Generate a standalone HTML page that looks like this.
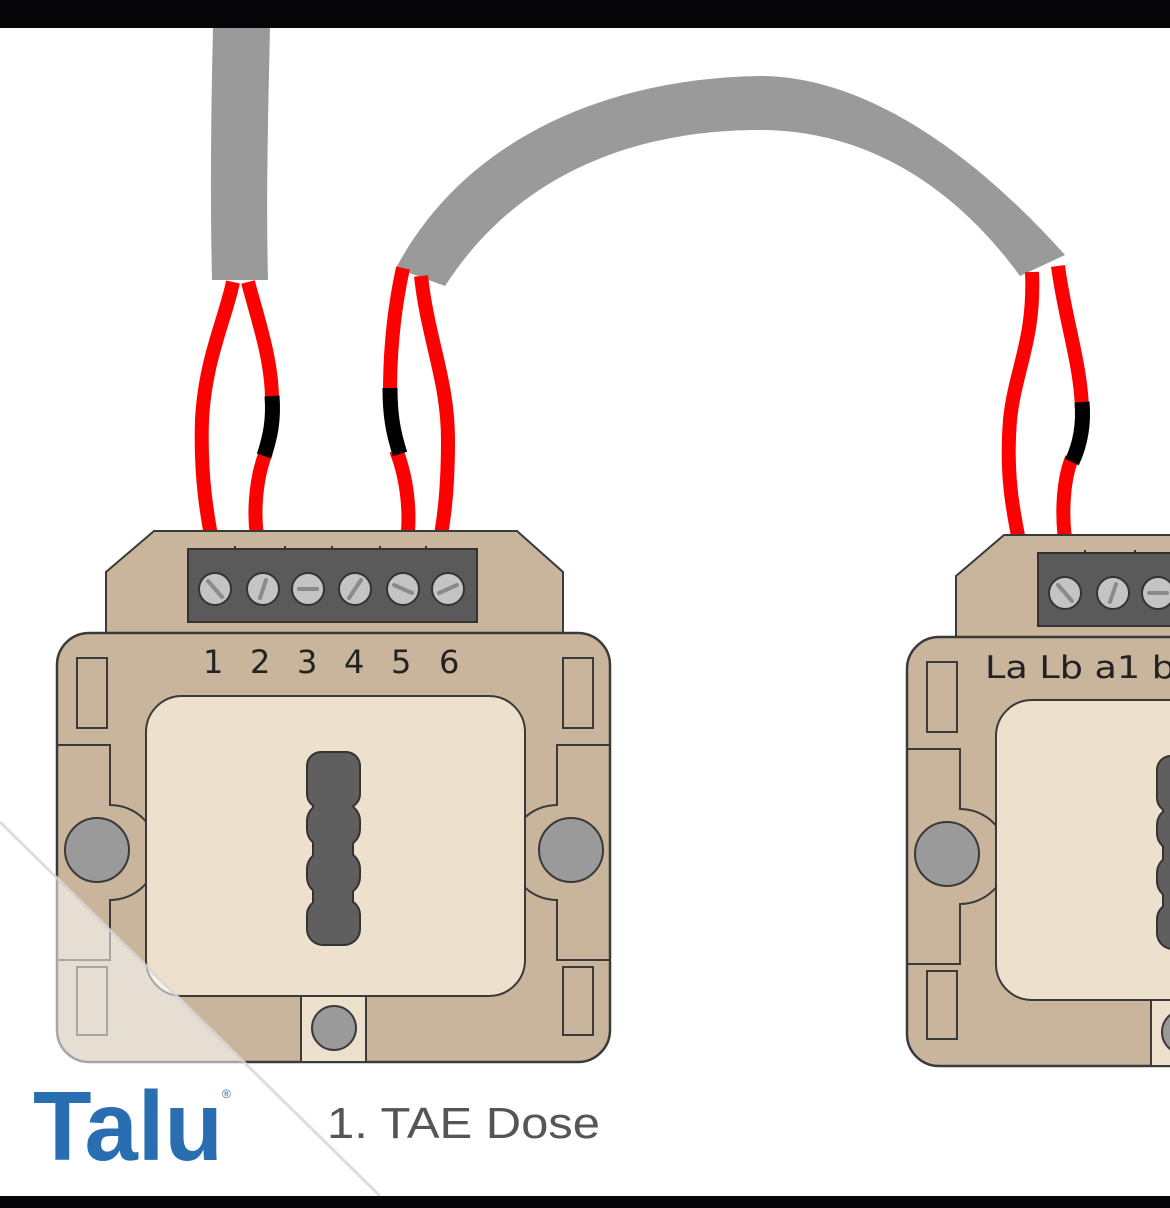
<!DOCTYPE html>
<html><head><meta charset="utf-8"><style>
html,body{margin:0;padding:0;background:#fff;}
svg{display:block;}
</style></head><body>
<svg width="1170" height="1208" viewBox="0 0 1170 1208" xmlns="http://www.w3.org/2000/svg">
<defs>
<g id="dev">
  <path d="M106,572 L154,531 L517,531 L563,572 L563,640 L106,640 Z" fill="#c8b59c" stroke="#3a3a3a" stroke-width="2"/>
  <rect x="57" y="633" width="553" height="429" rx="32" fill="#c8b59c" stroke="#3a3a3a" stroke-width="2.5"/>
  <rect x="77" y="658" width="30" height="70" fill="none" stroke="#3a3a3a" stroke-width="2"/>
  <rect x="563" y="658" width="30" height="70" fill="none" stroke="#3a3a3a" stroke-width="2"/>
  <rect x="77" y="967" width="30" height="68" fill="none" stroke="#3a3a3a" stroke-width="2"/>
  <rect x="563" y="967" width="30" height="68" fill="none" stroke="#3a3a3a" stroke-width="2"/>
  <path d="M57,745 L110,745 L110,805 A42,42 0 0 1 110,900 L110,960 L57,960" fill="none" stroke="#3a3a3a" stroke-width="2"/>
  <path d="M610,745 L557,745 L557,805 A42,42 0 0 0 557,900 L557,960 L610,960" fill="none" stroke="#3a3a3a" stroke-width="2"/>
  <circle cx="97" cy="850" r="32" fill="#9a9a9a" stroke="#3a3a3a" stroke-width="2"/>
  <circle cx="571" cy="850" r="32" fill="#9a9a9a" stroke="#3a3a3a" stroke-width="2"/>
  <rect x="146" y="696" width="379" height="300" rx="36" fill="#ede0cc" stroke="#3a3a3a" stroke-width="2"/>
  <rect x="301" y="996" width="65" height="66" fill="#ede0cc" stroke="#3a3a3a" stroke-width="2"/>
  <circle cx="334" cy="1028" r="22" fill="#9a9a9a" stroke="#3a3a3a" stroke-width="2"/>
  <g fill="#5f5f5f" stroke="#333" stroke-width="2">
    <rect x="313" y="770" width="40" height="160"/>
    <rect x="307" y="752" width="53" height="56" rx="14"/>
    <rect x="307" y="803" width="53" height="44" rx="18"/>
    <rect x="307" y="851" width="53" height="44" rx="18"/>
    <rect x="307" y="899" width="53" height="46" rx="16"/>
  </g>
  <rect x="314" y="770" width="38" height="160" fill="#5f5f5f"/>
  <rect x="188" y="549" width="289" height="73" fill="#5a5a5a" stroke="#333" stroke-width="2"/>
  <path d="M235,549v-3 M285,549v-3 M332,549v-3 M380,549v-3 M426,549v-3" stroke="#333" stroke-width="2"/>
  <g stroke="#333" stroke-width="2" fill="#c4c4c4">
    <circle cx="215" cy="589" r="16"/><circle cx="263" cy="589" r="16"/>
    <circle cx="308" cy="589" r="16"/><circle cx="355" cy="589" r="16"/>
    <circle cx="403" cy="589" r="16"/><circle cx="448" cy="589" r="16"/>
  </g>
  <g stroke="#8a8a8a" stroke-width="4" stroke-linecap="round">
    <path d="M208,581 L222,597"/><path d="M260,598 L266,580"/>
    <path d="M299,589 L317,589"/><path d="M349,598 L361,580"/>
    <path d="M394,585 L412,593"/><path d="M439,593 L457,585"/>
  </g>
</g>
</defs>

<rect width="1170" height="1208" fill="#fff"/>

<path d="M213,28 L270,28 C268,120 266,200 268,280 L212,280 C210,200 211,110 213,28 Z" fill="#9a9a9a"/>
<path d="M396,268 C470,130 620,78 760,76 C870,76 980,160 1065,255 L1020,276 C950,180 860,130 760,130 C640,130 520,170 445,286 Z" fill="#9a9a9a"/>

<g fill="none" stroke="#ff0000" stroke-width="14" stroke-linecap="butt">
  <path d="M233,282 C225,320 205,360 202,420 C200,480 208,520 214,552"/>
  <path d="M248,282 C258,320 272,360 272,400"/>
  <path d="M266,452 C255,480 252,520 260,552"/>
  <path d="M403,268 C396,300 390,340 390,392"/>
  <path d="M396,450 C408,480 412,520 405,552"/>
  <path d="M421,276 C428,340 448,380 448,440 C448,500 442,530 438,552"/>
  <path d="M1032,272 C1035,340 1015,370 1010,420 C1005,480 1015,520 1022,556"/>
  <path d="M1058,266 C1065,320 1080,360 1082,408"/>
  <path d="M1072,458 C1063,480 1060,520 1068,556"/>
</g>
<g fill="none" stroke="#000" stroke-width="15">
  <path d="M272,396 C274,420 270,438 264,456"/>
  <path d="M390,388 C390,415 393,432 400,454"/>
  <path d="M1082,402 C1084,425 1080,445 1072,462"/>
</g>

<use href="#dev"/>
<use href="#dev" transform="translate(850,4)"/>

<g font-family="'DejaVu Sans','Liberation Sans',sans-serif" font-size="32" fill="#222">
  <text x="203" y="673">1</text><text x="250" y="673">2</text><text x="297" y="673">3</text>
  <text x="344" y="673">4</text><text x="391" y="673">5</text><text x="439" y="673">6</text>
  <text x="985" y="678" font-size="31" textLength="190" lengthAdjust="spacingAndGlyphs">La Lb a1 b</text>
</g>

<polygon points="0,820 382,1196 0,1196" fill="#ffffff" fill-opacity="0.55"/>
<line x1="0" y1="822" x2="380" y2="1196" stroke="#d0d0d0" stroke-width="3" opacity="0.7"/>

<text x="33" y="1160" font-family="'Liberation Sans',sans-serif" font-weight="bold" font-size="98" fill="#2a6eb2" textLength="190" lengthAdjust="spacingAndGlyphs">Talu</text>
<text x="222" y="1098" font-family="'Liberation Sans',sans-serif" font-size="12" fill="#2a6eb2">®</text>
<text x="327" y="1138" font-family="'Liberation Sans',sans-serif" font-size="44" fill="#555" textLength="273" lengthAdjust="spacingAndGlyphs">1. TAE Dose</text>

<rect x="0" y="0" width="1170" height="28" fill="#060609"/>
<rect x="0" y="1196" width="1170" height="12" fill="#060609"/>
</svg>
</body></html>
